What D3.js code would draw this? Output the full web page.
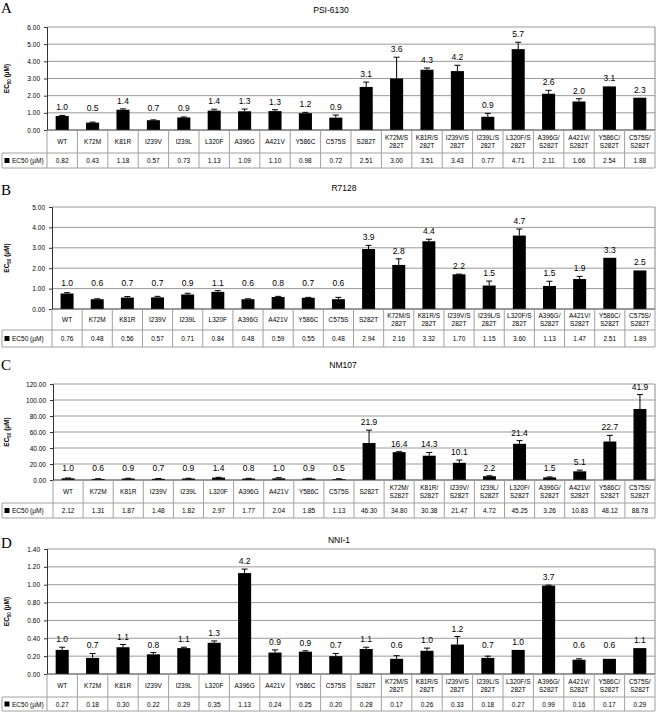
<!DOCTYPE html>
<html>
<head>
<meta charset="utf-8">
<script src="https://cdn.jsdelivr.net/npm/d3@7"></script>
<style>
  body { margin: 0; background: #fff; }
  svg { display: block; }
  text { font-family: Arial, "Liberation Sans", sans-serif; fill: #000; }
</style>
</head>
<body>
<div id="container"></div>
<script>
// Overall size
const width = 664;
const height = 712;

// Categories (mutants)
const cats = ["WT", "K72M", "K81R", "I239V", "I239L", "L320F", "A396G", "A421V", "Y586C", "C575S",
  "S282T", "K72M/S282T", "K81R/S282T", "I239V/S282T", "I239L/S282T", "L320F/S282T",
  "A396G/S282T", "A421V/S282T", "Y586C/S282T", "C575S/S282T"];

// How the category names are broken in the tables
const catLabels = ["WT", "K72M", "K81R", "I239V", "I239L", "L320F", "A396G", "A421V", "Y586C", "C575S",
  "S282T", "K72M/S\n282T", "K81R/S\n282T", "I239V/S\n282T", "I239L/S\n282T", "L320F/S\n282T",
  "A396G/\nS282T", "A421V/\nS282T", "Y586C/\nS282T", "C575S/\nS282T"];
const catLabelsC = ["WT", "K72M", "K81R", "I239V", "I239L", "L320F", "A396G", "A421V", "Y586C", "C575S",
  "S282T", "K72M/\nS282T", "K81R/\nS282T", "I239V/\nS282T", "I239L/\nS282T", "L320F/\nS282T",
  "A396G/\nS282T", "A421V/\nS282T", "Y586C/\nS282T", "C575S/\nS282T"];

// A - PSI-6130
const psiEC50 = [0.82, 0.43, 1.18, 0.57, 0.73, 1.13, 1.09, 1.10, 0.98, 0.72,
  2.51, 3.00, 3.51, 3.43, 0.77, 4.71, 2.11, 1.66, 2.54, 1.88];
const psiErr = [0.03, 0.03, 0.05, 0.02, 0.03, 0.08, 0.13, 0.08, 0.05, 0.15,
  0.28, 1.24, 0.10, 0.34, 0.20, 0.40, 0.20, 0.16, 0, 0];
const psiFold = ["1.0", "0.5", "1.4", "0.7", "0.9", "1.4", "1.3", "1.3", "1.2", "0.9",
  "3.1", "3.6", "4.3", "4.2", "0.9", "5.7", "2.6", "2.0", "3.1", "2.3"];
const psiTicks = [0, 1, 2, 3, 4, 5, 6];

// B - R7128
const r7128EC50 = [0.76, 0.48, 0.56, 0.57, 0.71, 0.84, 0.48, 0.59, 0.55, 0.48,
  2.94, 2.16, 3.32, 1.70, 1.15, 3.60, 1.13, 1.47, 2.51, 1.89];
const r7128Err = [0.04, 0.02, 0.05, 0.05, 0.06, 0.06, 0.02, 0.03, 0.02, 0.09,
  0.18, 0.30, 0.10, 0.01, 0.22, 0.32, 0.23, 0.13, 0, 0];
const r7128Fold = ["1.0", "0.6", "0.7", "0.7", "0.9", "1.1", "0.6", "0.8", "0.7", "0.6",
  "3.9", "2.8", "4.4", "2.2", "1.5", "4.7", "1.5", "1.9", "3.3", "2.5"];
const r7128Ticks = [0, 1, 2, 3, 4, 5];

// C - NM107
const nm107EC50 = [2.12, 1.31, 1.87, 1.48, 1.82, 2.97, 1.77, 2.04, 1.85, 1.13,
  46.30, 34.80, 30.38, 21.47, 4.72, 45.25, 3.26, 10.83, 48.12, 88.78];
const nm107Err = [0.4, 0.3, 0.3, 0.3, 0.3, 0.4, 0.3, 0.8, 0.3, 0.4,
  16, 0.6, 4, 3.5, 0.6, 4, 0.6, 1.5, 7.7, 18];
const nm107Fold = ["1.0", "0.6", "0.9", "0.7", "0.9", "1.4", "0.8", "1.0", "0.9", "0.5",
  "21.9", "16.4", "14.3", "10.1", "2.2", "21.4", "1.5", "5.1", "22.7", "41.9"];
const nm107Ticks = [0, 20, 40, 60, 80, 100, 120];

// D - NNI-1
const nni1EC50 = [0.27, 0.18, 0.30, 0.22, 0.29, 0.35, 1.13, 0.24, 0.25, 0.20,
  0.28, 0.17, 0.26, 0.33, 0.18, 0.27, 0.99, 0.16, 0.17, 0.29];
const nni1Err = [0.03, 0.05, 0.03, 0.02, 0.01, 0.02, 0.045, 0.03, 0.01, 0.03,
  0.02, 0.035, 0.03, 0.09, 0.02, 0, 0.005, 0.01, 0, 0];
const nni1Fold = ["1.0", "0.7", "1.1", "0.8", "1.1", "1.3", "4.2", "0.9", "0.9", "0.7",
  "1.1", "0.6", "1.0", "1.2", "0.7", "1.0", "3.7", "0.6", "0.6", "1.1"];
const nni1Ticks = [0, 0.2, 0.4, 0.6, 0.8, 1.0, 1.2, 1.4];

// Panel settings
const panels = [
  { letter: "A", title: "PSI-6130", titleX: 331, letterY: 13, titleY: 13,
    ec50: psiEC50, err: psiErr, fold: psiFold, ticks: psiTicks, labels: catLabels,
    legend: "EC50 (\u00b5M)", labelFloor: 1.1,
    left: 47, top: 27, bottom: 130, catBottom: 153, ecBottom: 168 },
  { letter: "B", title: "R7128", titleX: 344, letterY: 195, titleY: 191,
    ec50: r7128EC50, err: r7128Err, fold: r7128Fold, ticks: r7128Ticks, labels: catLabels,
    legend: "EC50 (\u00b5M)", labelFloor: 1.13,
    left: 52, top: 207, bottom: 309, catBottom: 330, ecBottom: 347 },
  { letter: "C", title: "NM107", titleX: 343, letterY: 370, titleY: 368,
    ec50: nm107EC50, err: nm107Err, fold: nm107Fold, ticks: nm107Ticks, labels: catLabelsC,
    legend: "EC50 (\u00b5M)", labelFloor: 11,
    left: 53, top: 384, bottom: 480, catBottom: 503, ecBottom: 518 },
  { letter: "D", title: "NNI-1", titleX: 339, letterY: 548, titleY: 543,
    ec50: nni1EC50, err: nni1Err, fold: nni1Fold, ticks: nni1Ticks, labels: catLabels,
    legend: "EC50 (\u00b5M)", labelFloor: 0.29,
    left: 47, top: 549, bottom: 674, catBottom: 697, ecBottom: 711 }
];

const right = 655;
const tableLeft = 2;

const svg = d3.select("#container")
  .append("svg")
  .attr("width", width)
  .attr("height", height);

panels.forEach(p => drawPanel(p));

function drawPanel(p) {
  const g = svg.append("g");
  const yMax = p.ticks[p.ticks.length - 1];

  const x = d3.scaleBand()
    .domain(cats)
    .range([p.left, right])
    .paddingInner(0.57)
    .paddingOuter(0.285);

  const y = d3.scaleLinear()
    .domain([0, yMax])
    .range([p.bottom, p.top]);

  const step = x.step();
  const colLeft = d => x(d) - (step - x.bandwidth()) / 2;

  // panel letter and title
  g.append("text")
    .attr("x", 1).attr("y", p.letterY)
    .style("font-family", "'Liberation Serif', 'DejaVu Serif', serif")
    .style("font-size", "15px")
    .text(p.letter);

  g.append("text")
    .attr("x", p.titleX).attr("y", p.titleY)
    .attr("text-anchor", "middle")
    .style("font-size", "8.5px")
    .text(p.title);

  // gridlines
  g.append("g")
    .selectAll("line")
    .data(p.ticks.filter(t => t > 0))
    .join("line")
    .attr("x1", p.left).attr("x2", right)
    .attr("y1", d => y(d)).attr("y2", d => y(d))
    .attr("stroke", "#9a9a9a")
    .attr("stroke-width", 1);

  // plot box right side
  g.append("line")
    .attr("x1", right).attr("x2", right)
    .attr("y1", p.top).attr("y2", p.bottom)
    .attr("stroke", "#8a8a8a");

  // y axis
  const yAxis = g.append("g")
    .attr("transform", `translate(${p.left},0)`)
    .call(d3.axisLeft(y).tickValues(p.ticks).tickFormat(d3.format(".2f")).tickSize(3).tickPadding(4));
  yAxis.select(".domain").attr("stroke", "#333");
  yAxis.selectAll(".tick line").attr("stroke", "#333");
  yAxis.selectAll("text")
    .style("font-size", "6.5px")
    .attr("fill", "#000")
    .style("font-family", "Arial, 'Liberation Sans', sans-serif");

  // y axis title: EC50 (µM)
  const yt = g.append("text")
    .attr("transform", `translate(9,${(p.top + p.bottom) / 2}) rotate(-90)`)
    .attr("text-anchor", "middle")
    .style("font-size", "6.5px")
    .style("font-weight", "bold");
  yt.append("tspan").text("EC");
  yt.append("tspan").attr("dy", 2).style("font-size", "4.5px").text("50");
  yt.append("tspan").attr("dy", -2).text(" (\u00b5M)");

  // bars
  g.append("g")
    .selectAll("rect")
    .data(cats)
    .join("rect")
    .attr("x", d => x(d))
    .attr("width", x.bandwidth())
    .attr("y", (d, i) => y(p.ec50[i]))
    .attr("height", (d, i) => p.bottom - y(p.ec50[i]))
    .attr("fill", "#000");

  // error bars (upper only)
  const eb = g.append("g").attr("stroke", "#000").attr("stroke-width", 1);
  cats.forEach((d, i) => {
    if (p.err[i] <= 0) return;
    const cx = x(d) + x.bandwidth() / 2;
    const y0 = y(p.ec50[i]);
    const y1 = y(p.ec50[i] + p.err[i]);
    eb.append("line").attr("x1", cx).attr("x2", cx).attr("y1", y0).attr("y2", y1);
    eb.append("line").attr("x1", cx - 3).attr("x2", cx + 3).attr("y1", y1).attr("y2", y1);
  });

  // fold-change labels
  g.append("g")
    .selectAll("text")
    .data(cats)
    .join("text")
    .attr("x", d => x(d) + x.bandwidth() / 2)
    .attr("y", (d, i) => Math.min(y(p.ec50[i] + p.err[i]) - 5, y(p.labelFloor)))
    .attr("text-anchor", "middle")
    .style("font-size", "8.5px")
    .text((d, i) => p.fold[i]);

  // x baseline
  g.append("line")
    .attr("x1", p.left).attr("x2", right)
    .attr("y1", p.bottom).attr("y2", p.bottom)
    .attr("stroke", "#333");

  // data table lines
  const tl = g.append("g").attr("stroke", "#a0a0a0").attr("stroke-width", 1);
  cats.forEach(d => {
    tl.append("line")
      .attr("x1", colLeft(d)).attr("x2", colLeft(d))
      .attr("y1", p.bottom).attr("y2", p.ecBottom);
  });
  tl.append("line")
    .attr("x1", right).attr("x2", right)
    .attr("y1", p.bottom).attr("y2", p.ecBottom);
  tl.append("line")
    .attr("x1", tableLeft).attr("x2", tableLeft)
    .attr("y1", p.catBottom).attr("y2", p.ecBottom);
  tl.append("line")
    .attr("x1", tableLeft).attr("x2", right)
    .attr("y1", p.catBottom).attr("y2", p.catBottom);
  tl.append("line")
    .attr("x1", tableLeft).attr("x2", right)
    .attr("y1", p.ecBottom).attr("y2", p.ecBottom);

  // category labels
  const catMid = (p.bottom + p.catBottom) / 2;
  const ct = g.append("g")
    .selectAll("text")
    .data(cats)
    .join("text")
    .attr("x", d => x(d) + x.bandwidth() / 2)
    .attr("text-anchor", "middle")
    .style("font-size", "6.5px");
  ct.each(function (d, i) {
    const lines = p.labels[i].split("\n");
    const t = d3.select(this);
    const y0 = catMid + 2.5 - (lines.length - 1) * 4;
    lines.forEach((ln, k) => {
      t.append("tspan")
        .attr("x", x(d) + x.bandwidth() / 2)
        .attr("y", y0 + k * 8)
        .text(ln);
    });
  });

  // EC50 values row
  const ecMid = (p.catBottom + p.ecBottom) / 2;
  g.append("g")
    .selectAll("text")
    .data(cats)
    .join("text")
    .attr("x", d => x(d) + x.bandwidth() / 2)
    .attr("y", ecMid + 2.5)
    .attr("text-anchor", "middle")
    .style("font-size", "6.5px")
    .text((d, i) => p.ec50[i].toFixed(2));

  // legend cell
  g.append("rect")
    .attr("x", tableLeft + 2.5).attr("y", ecMid - 2.5)
    .attr("width", 5).attr("height", 5)
    .attr("fill", "#000");
  g.append("text")
    .attr("x", tableLeft + 10).attr("y", ecMid + 2.5)
    .style("font-size", "6.5px")
    .text(p.legend);
}
</script>
</body>
</html>
